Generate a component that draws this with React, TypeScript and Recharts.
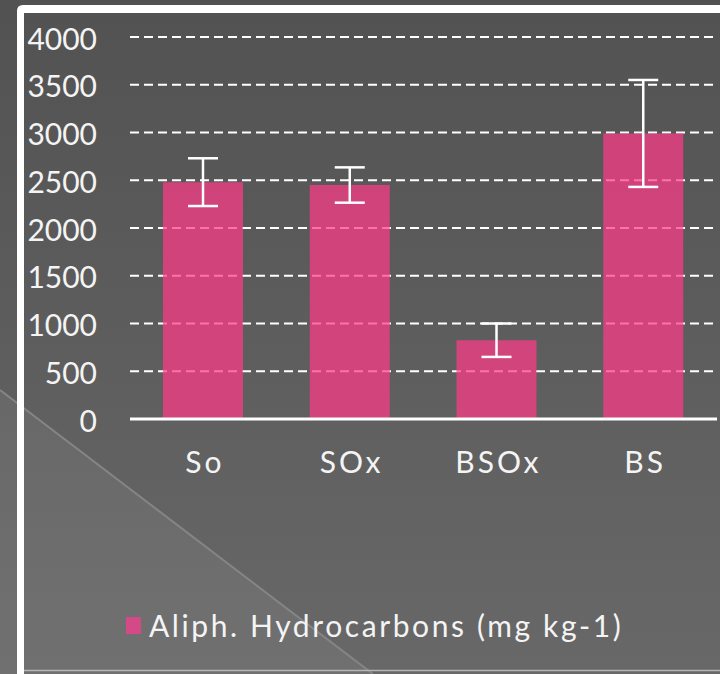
import React from 'react';
import { BarChart, Bar, XAxis, YAxis, CartesianGrid, ErrorBar, Legend } from 'recharts';

const categories = ['So', 'SOx', 'BSOx', 'BS'];
const values = [2480, 2450, 825, 2990];
const errors = [250, 185, 175, 560];
const yTicks = [0, 500, 1000, 1500, 2000, 2500, 3000, 3500, 4000];
const seriesName = 'Aliph. Hydrocarbons (mg kg-1)';

const data = categories.map((name, i) => ({ name, value: values[i], err: errors[i] }));

const FONT = 'Lato, "Open Sans", sans-serif';

const Background: React.FC = () => (
  <svg width={720} height={674} style={{ position: 'absolute', left: 0, top: 0 }}>
    <defs>
      <linearGradient id="bg" x1="0" y1="0" x2="0" y2="1">
        <stop offset="0%" stopColor="#525252" />
        <stop offset="100%" stopColor="#686868" />
      </linearGradient>
    </defs>
    <rect x={0} y={0} width={720} height={674} fill="url(#bg)" />
    {/* lighter wedge in the lower-left corner */}
    <polygon points="0,390 373,674 0,674" fill="#ffffff" fillOpacity={0.06} />
    <line x1={0} y1={390} x2={373} y2={674} stroke="#858585" strokeWidth={2} />
    {/* frame */}
    <line x1={24} y1={670.5} x2={720} y2={670.5} stroke="#b5b5b5" strokeWidth={1.5} />
    <path d="M17,674 L17,11 Q17,5 23,5 L720,5 L720,13 L24,13 L24,674 Z" fill="#ffffff" />
  </svg>
);

const LegendContent: React.FC = () => (
  <div style={{ display: 'flex', alignItems: 'center', fontFamily: FONT, fontSize: 30, color: '#f4f4f4', whiteSpace: 'nowrap' }}>
    <span style={{ display: 'inline-block', width: 15, height: 17, background: '#d44a87', marginRight: 8 }} />
    <span style={{ letterSpacing: 2.6 }}>{seriesName}</span>
  </div>
);

const App: React.FC = () => {
  return (
    <div style={{ position: 'absolute', left: 0, top: 0, width: 720, height: 674, overflow: 'hidden' }}>
      <Background />
      <div style={{ position: 'absolute', left: 0, top: 0 }}>
        <BarChart
          width={720}
          height={674}
          data={data}
          margin={{ top: 37, right: 3, bottom: 0, left: 0 }}
        >
          <CartesianGrid
            vertical={false}
            stroke="#ffffff"
            strokeWidth={2}
            strokeDasharray="9 5"
          />
          <XAxis
            dataKey="name"
            height={219}
            axisLine={{ stroke: '#ffffff', strokeWidth: 3 }}
            tickLine={false}
            tickSize={0}
            tickMargin={33}
            tick={{ fill: '#f4f4f4', fontSize: 30, fontFamily: FONT, letterSpacing: 3, dx: 1.5 }}
          />
          <YAxis
            width={130}
            domain={[0, 4000]}
            ticks={yTicks}
            interval={0}
            axisLine={false}
            tickLine={false}
            tickSize={0}
            tickMargin={33}
            tick={{ fill: '#f4f4f4', fontSize: 30, fontFamily: FONT, dy: 2 }}
          />
          <Legend
            content={<LegendContent />}
            wrapperStyle={{ position: 'absolute', left: 126, top: 607, width: 560 }}
          />
          <Bar
            dataKey="value"
            name={seriesName}
            fill="#ff3a88"
            fillOpacity={0.72}
            barSize={80}
            isAnimationActive={false}
          >
            <ErrorBar dataKey="err" width={15} stroke="#ffffff" strokeWidth={2.5} />
          </Bar>
        </BarChart>
      </div>
    </div>
  );
};

export default App;
